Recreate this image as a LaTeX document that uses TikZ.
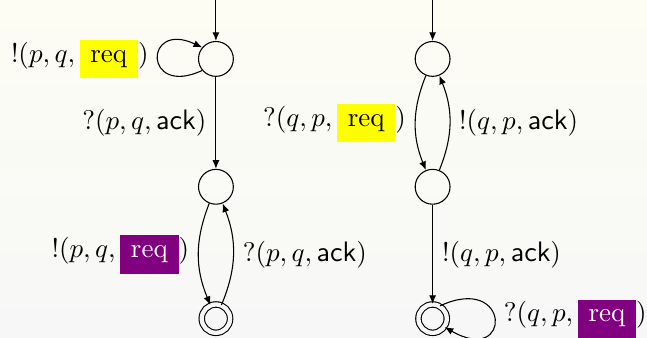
\documentclass[tikz,border=0pt]{standalone}
\usepackage{amssymb,amsmath}
\usepackage{xcolor}
\usetikzlibrary{arrows.meta}
\definecolor{reqY}{HTML}{FFFF00}
\definecolor{reqP}{HTML}{800080}
\definecolor{bgTop}{HTML}{FDFDF4}
\definecolor{bgBot}{HTML}{F7F7F7}
\setlength{\fboxsep}{4pt}
\newcommand{\yreq}{\colorbox{reqY}{$\mathrm{req}$}}
\newcommand{\preq}{\colorbox{reqP}{\color{white}$\mathrm{req}$}}
\newcommand{\sack}{\textsf{ack}}

\begin{document}
\begin{tikzpicture}[
  every node/.style={font=\fontsize{10.4}{12.5}\selectfont},
  st/.style={circle, draw, minimum size=12.9pt, inner sep=0pt},
  acc/.style={st, double=bgBot, double distance=1.6pt, minimum size=10.5pt},
  tr/.style={-{Latex[length=3.2pt,width=2.6pt]}}
]
  \useasboundingbox (0,0) rectangle (8.42,4.394);
  \clip (0,0) rectangle (8.42,4.394);
  \shade[top color=bgTop, bottom color=bgBot] (0,0) rectangle (8.42,4.394);

  % sender p
  \node[st]  (p0) at (2.81,3.627) {};
  \node[st]  (p1) at (2.81,1.963) {};
  \node[acc] (p2) at (2.81,0.247) {};
  \coordinate (pin) at (2.81,4.45);
  % receiver q
  \node[st]  (q0) at (5.63,3.627) {};
  \node[st]  (q1) at (5.63,1.963) {};
  \node[acc] (q2) at (5.63,0.247) {};
  \coordinate (qin) at (5.63,4.45);

  \draw[tr] (pin) -- (p0);
  \draw[tr] (p0.220) to[out=205, in=155, distance=24pt]
       node[left] {$!(p,q,\,$\yreq$)$} (p0.140);
  \draw[tr] (p0) -- node[left] {$?(p,q,\sack)$} (p1);
  \draw[tr] (p1) to[bend right=22] node[left] {$!(p,q,\,$\preq$)$} (p2);
  \draw[tr] (p2) to[bend right=22] node[right] {$?(p,q,\sack)$} (p1);

  \draw[tr] (qin) -- (q0);
  \draw[tr] (q0) to[bend right=22] node[left] {$?(q,p,\,$\yreq$)$} (q1);
  \draw[tr] (q1) to[bend right=22] node[right] {$!(q,p,\sack)$} (q0);
  \draw[tr] (q1) -- node[right] {$!(q,p,\sack)$} (q2);
  \draw[tr] (q2.60) to[out=25, in=-30, distance=29pt]
       node[right] {$?(q,p,\,$\preq$)$} (q2.-35);
\end{tikzpicture}
\end{document}
